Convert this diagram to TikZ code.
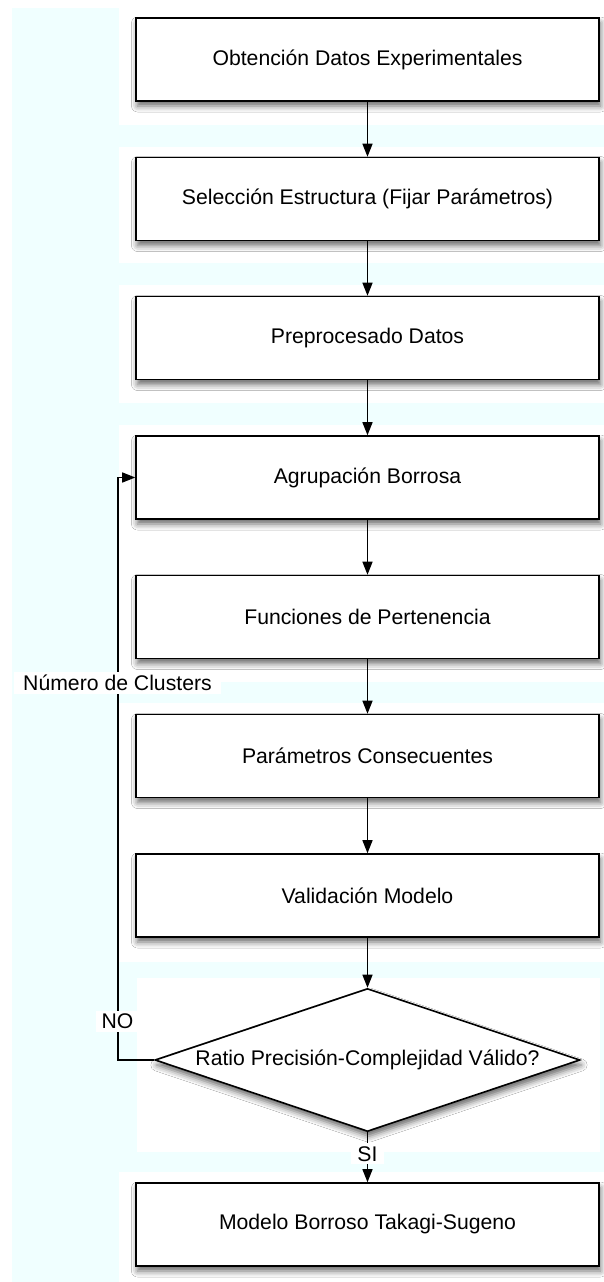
\documentclass[tikz,border=0pt]{standalone}
\usepackage{fontspec}
\setmainfont{Liberation Sans}
\usepackage{tikz}
\usetikzlibrary{arrows.meta}
\usetikzlibrary{shapes.geometric}
\usetikzlibrary{shadows.blur}
\definecolor{fondo}{RGB}{240,255,255}

\begin{document}
\begin{tikzpicture}[x=1pt,y=-1pt,font=\fontsize{21.2}{25}\selectfont]
\useasboundingbox (0,0) rectangle (604,1282);
% fondo y zonas blancas
\fill[fondo] (12,8) rectangle (604,1282);
\fill[white] (119,8) rectangle (604,125);
\fill[white] (119,147) rectangle (604,263);
\fill[white] (119,285) rectangle (604,403);
\fill[white] (119,425) rectangle (604,682);
\fill[white] (119,703) rectangle (604,962);
\fill[white] (137,978) rectangle (600,1152);
\fill[white] (119,1172) rectangle (604,1282);
\begin{scope}[every node/.style={rectangle,draw,fill=white,line width=1.6pt,
              minimum width=463pt,minimum height=83pt,
              blur shadow={shadow xshift=1.5pt,shadow yshift=-5pt,shadow blur radius=6pt,shadow opacity=60}}]
    \node (datos) at (367.5,59.5) {Obtención Datos Experimentales};
    \node (estructura) at (367.5,199) {Selección Estructura (Fijar Parámetros)};
    \node (preproc) at (367.5,338) {Preprocesado Datos};
    \node (agrup) at (367.5,477.5) {Agrupación Borrosa};
    \node (funciones) at (367.5,617) {Funciones de Pertenencia};
    \node (consec) at (367.5,756) {Parámetros Consecuentes};
    \node (valid) at (367.5,895.5) {Validación Modelo};
    \node (ratio) [diamond,shape aspect=2.97,inner sep=0pt,
                   minimum width=425pt,minimum height=143pt] at (367.5,1060)
                   {Ratio Precisión-Complejidad Válido?};
    \node (modelo) at (367.5,1224.5) {Modelo Borroso Takagi-Sugeno};
\end{scope}
\begin{scope}[>={Triangle[length=13pt,width=10pt]},
              every node/.style={fill=white,inner xsep=6pt,inner ysep=3pt},
              flow_edge/.style={draw=black,line width=1.3pt}]
    \path [->] (datos) edge [flow_edge] (estructura);
    \path [->] (estructura) edge [flow_edge] (preproc);
    \path [->] (preproc) edge [flow_edge] (agrup);
    \path [->] (agrup) edge [flow_edge] (funciones);
    \path [->] (funciones) edge [flow_edge] (consec);
    \path [->] (consec) edge [flow_edge] (valid);
    \path [->] (valid) edge [flow_edge] (ratio);
    \path [->] (ratio) edge [flow_edge] node[pos=0.43] (si) {SI} (modelo);
    \coordinate (vuelta) at (118,1060);
    \draw [->,flow_edge] (ratio.west) -- (vuelta) |- (agrup.west);
    \node (no) at (117.5,1021) {NO};
    \node (clusters) [inner xsep=9pt] at (117.5,683) {Número de Clusters};
\end{scope}
\end{tikzpicture}
\end{document}
